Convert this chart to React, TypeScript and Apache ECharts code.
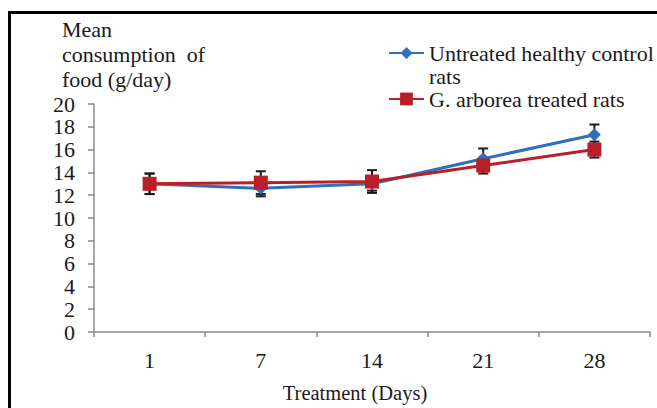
import React, { useEffect, useRef } from "react";
import * as echarts from "echarts";

const days = ["1", "7", "14", "21", "28"];
const controlName = "Untreated healthy control rats";
const treatedName = "G. arborea treated rats";
const controlValues = [13.0, 12.6, 13.0, 15.2, 17.3];
const controlErrors = [0.9, 0.7, 0.6, 0.9, 0.9];
const treatedValues = [13.0, 13.1, 13.2, 14.6, 16.0];
const treatedErrors = [0.9, 1.0, 1.0, 0.7, 0.7];
const yTitle = "Mean\nconsumption  of\nfood (g/day)";
const xTitle = "Treatment (Days)";

const FONT = "Liberation Serif";
const BLUE = "#2E6FBE";
const RED = "#BA1F27";

function errorSeries(values: number[], errors: number[]) {
  return {
    type: "custom",
    z: 1,
    silent: true,
    data: values.map((v, i) => [i, v - errors[i], v + errors[i]]),
    encode: { x: 0, y: [1, 2] },
    renderItem: (_params: any, api: any) => {
      const idx = api.value(0);
      const lo = api.coord([idx, api.value(1)]);
      const hi = api.coord([idx, api.value(2)]);
      const w = 5;
      const style = { stroke: "#1a1a1a", lineWidth: 2 };
      return {
        type: "group",
        children: [
          { type: "line", shape: { x1: lo[0], y1: lo[1], x2: hi[0], y2: hi[1] }, style },
          { type: "line", shape: { x1: lo[0] - w, y1: lo[1], x2: lo[0] + w, y2: lo[1] }, style },
          { type: "line", shape: { x1: hi[0] - w, y1: hi[1], x2: hi[0] + w, y2: hi[1] }, style },
        ],
      };
    },
  };
}

export default function App() {
  const ref = useRef<HTMLDivElement>(null);
  useEffect(() => {
    if (!ref.current) return;
    const chart = echarts.init(ref.current, null, { renderer: "svg" });
    chart.setOption({
      animation: false,
      backgroundColor: "#fff",
      grid: { left: 94, top: 104, right: 7, bottom: 76 },
      legend: [
        {
          data: [controlName],
          left: 388,
          top: 18.5,
          padding: 0,
          itemWidth: 35,
          itemHeight: 15,
          itemGap: 0,
          formatter: () => "\nUntreated healthy control\nrats",
          textStyle: {
            fontFamily: FONT,
            fontSize: 22,
            lineHeight: 23,
            color: "#1a1a1a",
          },
        },
        {
          data: [treatedName],
          left: 388,
          top: 88,
          padding: 0,
          itemWidth: 35,
          itemHeight: 16,
          textStyle: {
            fontFamily: FONT,
            fontSize: 22,
            lineHeight: 22,
            color: "#1a1a1a",
          },
        },
      ],
      xAxis: {
        type: "category",
        data: days,
        boundaryGap: true,
        axisLine: { lineStyle: { color: "#8a8a8a", width: 1.5 } },
        axisTick: { show: true, length: 5, lineStyle: { color: "#8a8a8a", width: 1.5 } },
        axisLabel: { fontFamily: FONT, fontSize: 22, color: "#1a1a1a", margin: 17 },
        splitLine: { show: false },
        name: xTitle,
        nameLocation: "middle",
        nameGap: 50,
        nameTextStyle: {
          fontFamily: FONT,
          fontSize: 20.5,
          color: "#1a1a1a",
          padding: [0, 34, 0, 0],
        },
      },
      yAxis: {
        type: "value",
        min: 0,
        max: 20,
        interval: 2,
        axisLine: { show: true, lineStyle: { color: "#8a8a8a", width: 1.5 } },
        axisTick: { show: true, length: 6, lineStyle: { color: "#8a8a8a", width: 1.5 } },
        axisLabel: { fontFamily: FONT, fontSize: 22, color: "#1a1a1a", margin: 19 },
        splitLine: { show: false },
      },
      graphic: [
        {
          type: "rect",
          shape: { x: 9.5, y: 12.5, width: 700, height: 500 },
          style: { fill: "none", stroke: "#000", lineWidth: 3 },
          silent: true,
        },
        {
          type: "text",
          left: 62,
          top: 17,
          style: {
            text: yTitle,
            fontFamily: FONT,
            fontSize: 22,
            lineHeight: 25,
            fill: "#1a1a1a",
          },
        },
      ],
      series: [
        errorSeries(controlValues, controlErrors),
        errorSeries(treatedValues, treatedErrors),
        {
          name: controlName,
          type: "line",
          z: 3,
          data: controlValues,
          symbol: "diamond",
          symbolSize: [13, 13],
          lineStyle: { color: BLUE, width: 3 },
          itemStyle: { color: BLUE },
        },
        {
          name: treatedName,
          type: "line",
          z: 4,
          data: treatedValues,
          symbol: "rect",
          symbolSize: 14,
          lineStyle: { color: RED, width: 3 },
          itemStyle: { color: RED },
        },
      ],
    });
    return () => chart.dispose();
  }, []);
  return (
    <div
      ref={ref}
      style={{ position: "fixed", left: 0, top: 0, width: 657, height: 408 }}
    />
  );
}
